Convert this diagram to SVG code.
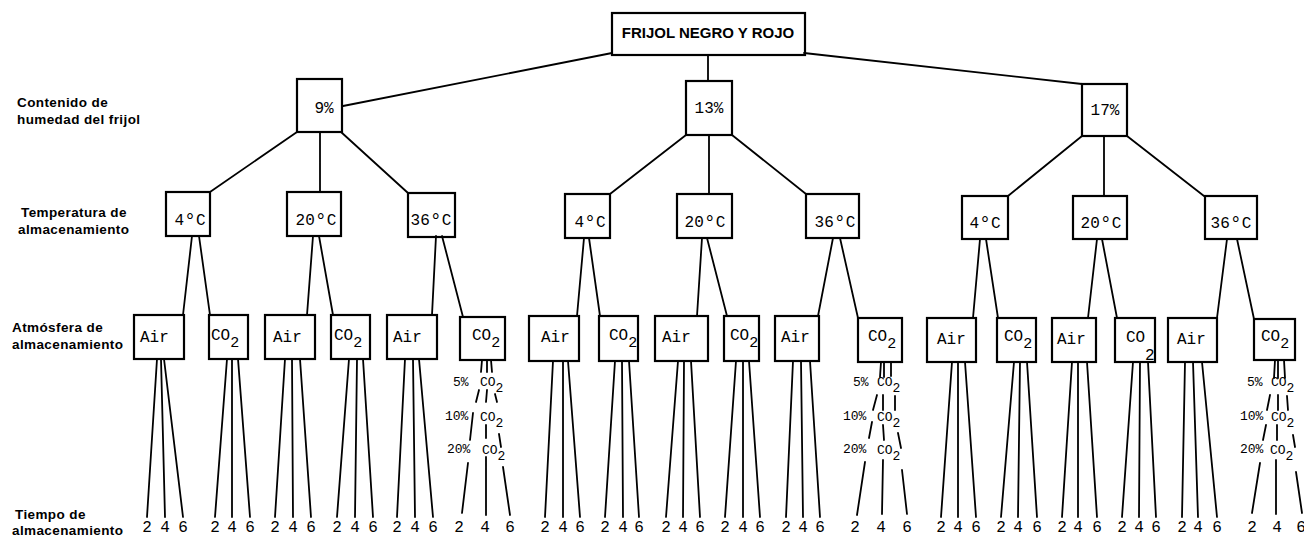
<svg xmlns="http://www.w3.org/2000/svg" width="1304" height="538" viewBox="0 0 1304 538">
<style>
.bx{fill:none;stroke:#000;stroke-width:2.2}
.ln{fill:none;stroke:#000;stroke-width:1.8;stroke-linecap:round}
.lbl{font-family:"Liberation Sans",Arial,Helvetica,sans-serif;font-weight:bold;font-size:13.5px;letter-spacing:0.4px;fill:#000}
.root{font-family:"Liberation Sans",Arial,Helvetica,sans-serif;font-weight:bold;font-size:15px;fill:#000;text-anchor:middle}
.m{font-family:"Liberation Mono","Courier New",monospace;font-size:16px;fill:#000}
.mc{text-anchor:middle}
.dg{font-size:20px}
.s{font-family:"Liberation Mono","Courier New",monospace;font-size:13px;fill:#000}
.n{font-family:"Liberation Mono","Courier New",monospace;font-size:16px;fill:#000;text-anchor:middle}
</style>
<rect width="1304" height="538" fill="#fff"/>

<g id="level-labels">
<text class="lbl" x="17" y="107">Contenido de</text>
<text class="lbl" x="17" y="124">humedad del frijol</text>
<text class="lbl" x="21" y="217">Temperatura de</text>
<text class="lbl" x="18" y="234">almacenamiento</text>
<text class="lbl" x="12" y="332">Atmósfera de</text>
<text class="lbl" x="12" y="349">almacenamiento</text>
<text class="lbl" x="15" y="519">Tiempo de</text>
<text class="lbl" x="12" y="535">almacenamiento</text>
</g>

<g id="connectors" class="ln">
<path d="M612 53L343 106M708 55L708 81M804 53L1082 84"/>
<path d="M297 132L210 192M320 132L320 192M341 132L408 193M686 135L610 194M709 135L709 194M732 135L806 194M1082 136L1008 196M1104 136L1104 196M1127 136L1204 196"/>
<path d="M192 236L183 315M199 236L210 315M313 236L307 315M319 236L333 315M436 236L432 315M442 236L463 317M584 238L577 316M589 238L600 316M702 238L697 316M707 238L727 316M833 238L818 316M840 238L858 318M980 239L973 318M986 239L998 318M1097 239L1088 318M1102 239L1117 318M1227 239L1217 318M1237 239L1254 319"/>
<path d="M157 359L147 517M161 359L165 517M164 359L183 517"/>
<path d="M227 359L215 517M232 359L232 517M238 359L250 517"/>
<path d="M285 359L275 517M292 359L293 517M300 359L311 517"/>
<path d="M349 359L337 517M357 359L355 517M363 359L373 517"/>
<path d="M405 359L397 517M413 359L415 517M419 359L433 517"/>
<path d="M553 361L545 517M563 361L563 517M568 361L580 517"/>
<path d="M615 361L605 517M622 361L623 517M629 361L639 517"/>
<path d="M678 361L666 517M684 361L683 517M691 361L700 517"/>
<path d="M736 361L725 517M743 361L743 517M749 361L760 517"/>
<path d="M793 361L786 517M801 361L803 517M810 361L820 517"/>
<path d="M952 362L941 517M958 362L958 517M965 362L976 517"/>
<path d="M1014 362L1001 517M1020 362L1018 517M1027 362L1037 517"/>
<path d="M1072 362L1062 517M1078 362L1078 517M1087 362L1097 517"/>
<path d="M1133 362L1122 517M1140 362L1139 517M1148 362L1156 517"/>
<path d="M1185 362L1182 517M1193 362L1198 517M1202 362L1217 517"/>
<path d="M482 360L481 372M487 360L487 372M491 360L492 372M479 390L476 402M487 390L486 402M495 394L497 402M473 413L470 440M486 425L486 438M499 434L501 447M468 463L462 513M486 457L486 515M503 467L510 515"/>
<path d="M881 362L880 377M884 362L884 377M891 362L891 376M877 395L873 410M883 395L883 410M895 396L895 410M872 422L869 438M883 425L884 440M898 433L901 448M865 462L857 515M883 460L882 514M902 470L907 514"/>
<path d="M1275 360L1274 378M1278 360L1278 378M1284 360L1285 378M1270 395L1267 410M1278 395L1278 410M1287 396L1288 410M1266 425L1263 440M1277 425L1277 440M1293 435L1295 447M1260 463L1252 513M1276 460L1276 514M1296 472L1302 513"/>
</g>

<g id="root"><rect class="bx" x="612" y="13" width="193" height="42"/><text class="root" x="708" y="38">FRIJOL NEGRO Y ROJO</text></g>

<g id="h9"><rect class="bx" x="297" y="79" width="45" height="53"/><text class="m mc" x="324" y="113">9%</text></g>
<g id="h13"><rect class="bx" x="686" y="81" width="46" height="54"/><text class="m mc" x="709" y="113">13%</text></g>
<g id="h17"><rect class="bx" x="1082" y="84" width="45" height="52"/><text class="m mc" x="1105" y="115">17%</text></g>

<g id="h9-t4"><rect class="bx" x="166" y="192" width="44" height="44"/><text class="m mc" x="190" y="225">4<tspan class="dg" dy="2">°</tspan><tspan dy="-2">C</tspan></text></g>
<g id="h9-t20"><rect class="bx" x="287" y="192" width="54" height="44"/><text class="m mc" x="316" y="225">20<tspan class="dg" dy="2">°</tspan><tspan dy="-2">C</tspan></text></g>
<g id="h9-t36"><rect class="bx" x="408" y="193" width="47" height="44"/><text class="m mc" x="431" y="225">36<tspan class="dg" dy="2">°</tspan><tspan dy="-2">C</tspan></text></g>
<g id="h13-t4"><rect class="bx" x="565" y="194" width="45" height="44"/><text class="m mc" x="590" y="227">4<tspan class="dg" dy="2">°</tspan><tspan dy="-2">C</tspan></text></g>
<g id="h13-t20"><rect class="bx" x="677" y="194" width="55" height="44"/><text class="m mc" x="705" y="227">20<tspan class="dg" dy="2">°</tspan><tspan dy="-2">C</tspan></text></g>
<g id="h13-t36"><rect class="bx" x="806" y="194" width="53" height="44"/><text class="m mc" x="835" y="227">36<tspan class="dg" dy="2">°</tspan><tspan dy="-2">C</tspan></text></g>
<g id="h17-t4"><rect class="bx" x="962" y="196" width="46" height="43"/><text class="m mc" x="985" y="228">4<tspan class="dg" dy="2">°</tspan><tspan dy="-2">C</tspan></text></g>
<g id="h17-t20"><rect class="bx" x="1073" y="196" width="54" height="43"/><text class="m mc" x="1101" y="228">20<tspan class="dg" dy="2">°</tspan><tspan dy="-2">C</tspan></text></g>
<g id="h17-t36"><rect class="bx" x="1205" y="196" width="52" height="43"/><text class="m mc" x="1231" y="228">36<tspan class="dg" dy="2">°</tspan><tspan dy="-2">C</tspan></text></g>

<g id="h9-t4-air"><rect class="bx" x="134" y="315" width="50" height="44"/><text class="m" x="140" y="342">Air</text><text class="n" x="147" y="532">2</text><text class="n" x="165" y="532">4</text><text class="n" x="183" y="532">6</text></g>
<g id="h9-t4-co2"><rect class="bx" x="209" y="315" width="39" height="44"/><text class="m" x="211" y="340">CO<tspan dy="7" font-size="15">2</tspan></text><text class="n" x="215" y="532">2</text><text class="n" x="232" y="532">4</text><text class="n" x="250" y="532">6</text></g>
<g id="h9-t20-air"><rect class="bx" x="265" y="315" width="50" height="44"/><text class="m" x="273" y="342">Air</text><text class="n" x="275" y="532">2</text><text class="n" x="293" y="532">4</text><text class="n" x="311" y="532">6</text></g>
<g id="h9-t20-co2"><rect class="bx" x="331" y="315" width="39" height="44"/><text class="m" x="334" y="340">CO<tspan dy="7" font-size="15">2</tspan></text><text class="n" x="337" y="532">2</text><text class="n" x="355" y="532">4</text><text class="n" x="373" y="532">6</text></g>
<g id="h9-t36-air"><rect class="bx" x="387" y="315" width="50" height="44"/><text class="m" x="393" y="342">Air</text><text class="n" x="397" y="532">2</text><text class="n" x="415" y="532">4</text><text class="n" x="433" y="532">6</text></g>
<g id="h9-t36-co2"><rect class="bx" x="460" y="317" width="45" height="43"/><text class="m" x="472" y="340">CO<tspan dy="7" font-size="15">2</tspan></text>
<text class="s" x="453" y="386">5%</text><text class="s" x="480" y="386">CO<tspan dy="6">2</tspan></text>
<text class="s" x="445" y="420">10%</text><text class="s" x="480" y="421">CO<tspan dy="6">2</tspan></text>
<text class="s" x="447" y="453">20%</text><text class="s" x="482" y="454">CO<tspan dy="6">2</tspan></text>
<text class="n" x="459" y="532">2</text><text class="n" x="485" y="532">4</text><text class="n" x="510" y="532">6</text></g>

<g id="h13-t4-air"><rect class="bx" x="529" y="316" width="50" height="45"/><text class="m" x="541" y="342">Air</text><text class="n" x="545" y="532">2</text><text class="n" x="563" y="532">4</text><text class="n" x="580" y="532">6</text></g>
<g id="h13-t4-co2"><rect class="bx" x="599" y="316" width="39" height="45"/><text class="m" x="609" y="340">CO<tspan dy="7" font-size="15">2</tspan></text><text class="n" x="605" y="532">2</text><text class="n" x="623" y="532">4</text><text class="n" x="639" y="532">6</text></g>
<g id="h13-t20-air"><rect class="bx" x="655" y="316" width="53" height="45"/><text class="m" x="662" y="342">Air</text><text class="n" x="666" y="532">2</text><text class="n" x="683" y="532">4</text><text class="n" x="700" y="532">6</text></g>
<g id="h13-t20-co2"><rect class="bx" x="724" y="316" width="35" height="45"/><text class="m" x="730" y="340">CO<tspan dy="7" font-size="15">2</tspan></text><text class="n" x="725" y="532">2</text><text class="n" x="743" y="532">4</text><text class="n" x="760" y="532">6</text></g>
<g id="h13-t36-air"><rect class="bx" x="775" y="316" width="44" height="45"/><text class="m" x="781" y="342">Air</text><text class="n" x="786" y="532">2</text><text class="n" x="803" y="532">4</text><text class="n" x="820" y="532">6</text></g>
<g id="h13-t36-co2"><rect class="bx" x="858" y="318" width="44" height="44"/><text class="m" x="868" y="341">CO<tspan dy="7" font-size="15">2</tspan></text>
<text class="s" x="853" y="386">5%</text><text class="s" x="877" y="386">CO<tspan dy="6">2</tspan></text>
<text class="s" x="843" y="420">10%</text><text class="s" x="877" y="421">CO<tspan dy="6">2</tspan></text>
<text class="s" x="843" y="453">20%</text><text class="s" x="877" y="454">CO<tspan dy="6">2</tspan></text>
<text class="n" x="855" y="532">2</text><text class="n" x="881" y="532">4</text><text class="n" x="907" y="532">6</text></g>

<g id="h17-t4-air"><rect class="bx" x="927" y="318" width="49" height="44"/><text class="m" x="937" y="344">Air</text><text class="n" x="941" y="532">2</text><text class="n" x="958" y="532">4</text><text class="n" x="976" y="532">6</text></g>
<g id="h17-t4-co2"><rect class="bx" x="997" y="318" width="39" height="44"/><text class="m" x="1004" y="341">CO<tspan dy="7" font-size="15">2</tspan></text><text class="n" x="1001" y="532">2</text><text class="n" x="1018" y="532">4</text><text class="n" x="1037" y="532">6</text></g>
<g id="h17-t20-air"><rect class="bx" x="1052" y="318" width="44" height="44"/><text class="m" x="1057" y="344">Air</text><text class="n" x="1062" y="532">2</text><text class="n" x="1078" y="532">4</text><text class="n" x="1097" y="532">6</text></g>
<g id="h17-t20-co2"><rect class="bx" x="1115" y="318" width="40" height="44"/><text class="m" x="1126" y="342">CO</text><text class="m" x="1145" y="360" font-size="15">2</text><text class="n" x="1122" y="532">2</text><text class="n" x="1139" y="532">4</text><text class="n" x="1156" y="532">6</text></g>
<g id="h17-t36-air"><rect class="bx" x="1168" y="318" width="49" height="44"/><text class="m" x="1177" y="344">Air</text><text class="n" x="1182" y="532">2</text><text class="n" x="1198" y="532">4</text><text class="n" x="1217" y="532">6</text></g>
<g id="h17-t36-co2"><rect class="bx" x="1254" y="319" width="41" height="41"/><text class="m" x="1261" y="341">CO<tspan dy="7" font-size="15">2</tspan></text>
<text class="s" x="1247" y="386">5%</text><text class="s" x="1271" y="386">CO<tspan dy="6">2</tspan></text>
<text class="s" x="1240" y="420">10%</text><text class="s" x="1271" y="421">CO<tspan dy="6">2</tspan></text>
<text class="s" x="1240" y="453">20%</text><text class="s" x="1270" y="454">CO<tspan dy="6">2</tspan></text>
<text class="n" x="1252" y="532">2</text><text class="n" x="1277" y="532">4</text><text class="n" x="1301" y="532">6</text></g>
</svg>
